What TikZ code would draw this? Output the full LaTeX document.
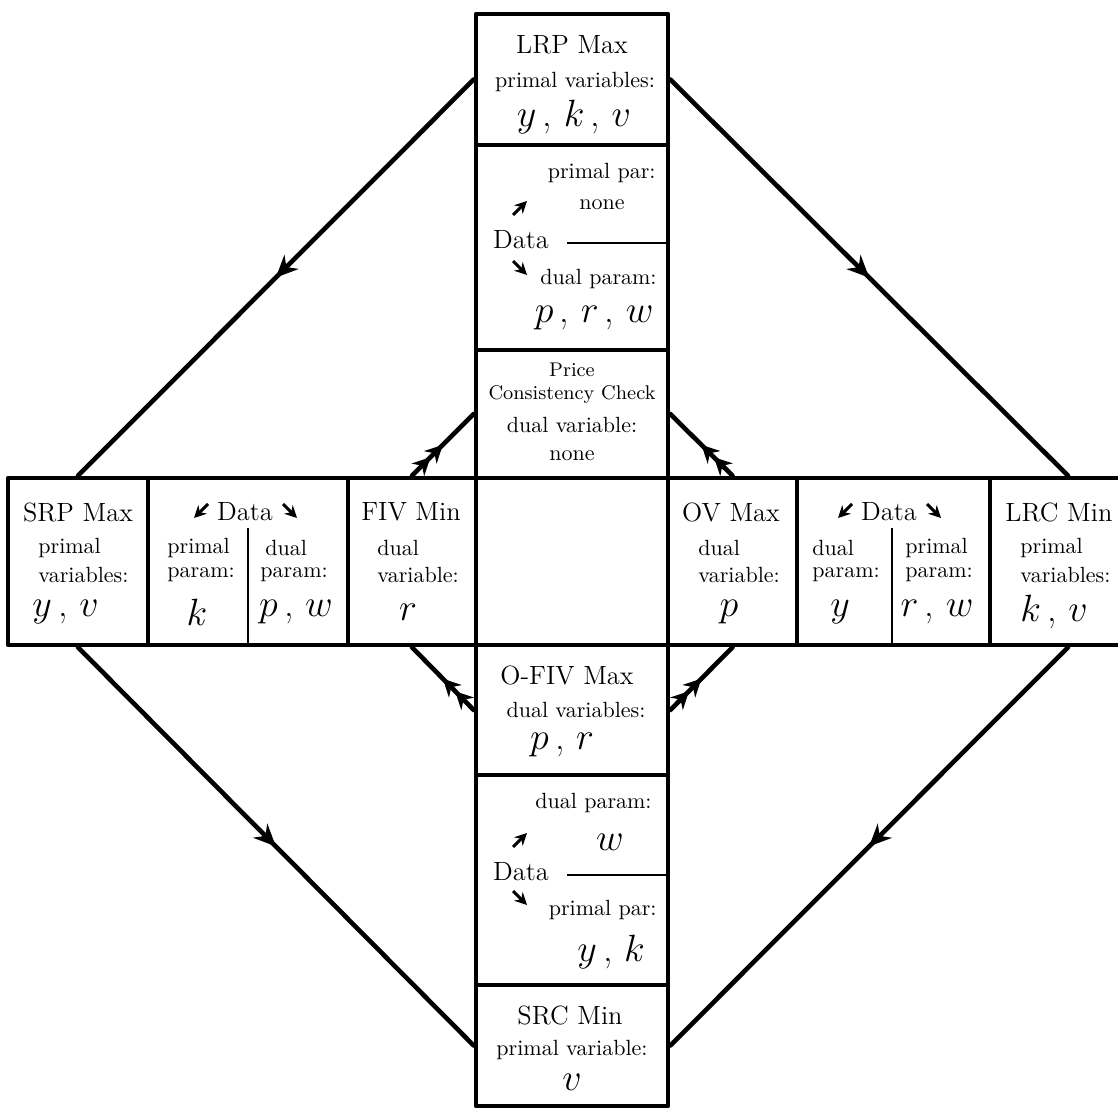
\documentclass[tikz,border=0pt]{standalone}
\usetikzlibrary{arrows.meta,decorations.markings,fit}
\tikzset{
	box/.style={draw, line width=2.1pt, inner sep=0pt},
	txt/.style={inner sep=0pt},
	big/.style={txt, font=\large},
	sml/.style={txt, font=\small},
	var/.style={txt, font=\LARGE},
	sep/.style={line width=0.8pt},
	tip/.style={line width=1.4pt, -{Stealth[length=5.5pt,width=5.5pt]}},
	onearr/.style={line width=2.1pt, line cap=round, postaction={decorate},
		decoration={markings, mark=at position .5 with {\arrow{Stealth[length=10pt,width=9pt]}}}},
	twoarr/.style={line width=2.1pt, line cap=round, postaction={decorate},
		decoration={markings, mark=at position .5 with {\arrow{Stealth[length=8pt,width=8pt] Stealth[length=8pt,width=8pt]}}}}
}
\begin{document}
\begin{tikzpicture}[x=0.4547pt, y=-0.4547pt, line join=round]
	\useasboundingbox (0,0) rectangle (1118,1109);
	% column of boxes
	\node[box, fit={(476,14)(668,145)}] (lrp) {};
	\node[box, fit={(476,145)(668,350)}] (dtop) {};
	\node[box, fit={(476,350)(668,478)}] (pcc) {};
	\node[box, fit={(476,478)(668,645)}] (mid) {};
	\node[box, fit={(476,645)(668,775)}] (ofiv) {};
	\node[box, fit={(476,775)(668,985)}] (dbot) {};
	\node[box, fit={(476,985)(668,1106)}] (src) {};
	% row of boxes
	\node[box, fit={(8,478)(148,645)}] (srp) {};
	\node[box, fit={(148,478)(348,645)}] (dleft) {};
	\node[box, fit={(348,478)(476,645)}] (fiv) {};
	\node[box, fit={(668,478)(797,645)}] (ov) {};
	\node[box, fit={(797,478)(990,645)}] (dright) {};
	\node[box, fit={(990,478)(1146,645)}] (lrc) {};

	% LRP Max
	\node[big] (lrpT) at (572,45) {LRP Max};
	\node[txt] (lrpL) at (575,82) {primal variables:};
	\node[var] (lrpV) at (574,117) {$y$\,, $k$\,, $v$};
	% upper data
	\node[txt, anchor=east] (dtP) at (656,173) {primal par:};
	\node[txt] (dtN) at (602,205) {none};
	\node[big] (dA) at (521,240) {Data};
	\draw[tip] (513,215) -- (527,201);
	\draw[tip] (513,261) -- (527,275);
	\draw[sep] (567,243) -- (dtop.east |- 0,243);
	\node[txt, anchor=east] (dtD) at (657,279) {dual param:};
	\node[var, anchor=east] (dtV) at (654,318) {$p$\,, $r$\,, $w$};
	% price check
	\node[sml] (pccA) at (572,370) {Price};
	\node[sml] (pccB) at (572,395) {Consistency Check};
	\node[txt] (pccC) at (572,425) {dual variable:};
	\node[txt] (pccD) at (572,456) {none};
	% SRP Max
	\node[big] (srpT) at (78,512) {SRP Max};
	\node[txt, anchor=west] (srpA) at (38,548) {primal};
	\node[txt, anchor=west] (srpB) at (38,575) {variables:};
	\node[var, anchor=west] (srpV) at (32,612) {$y$\,, $v$};
	% left data
	\node[big] (dB) at (245,512) {Data};
	\draw[tip] (208,504) -- (194,518);
	\draw[tip] (283,504) -- (297,518);
	\draw[sep] (248,528) -- (dleft.south);
	\node[txt, anchor=west] (dlA) at (167,548) {primal};
	\node[txt, anchor=west] (dlB) at (167,575) {param:};
	\node[var] (dlV) at (197,612) {$k$};
	\node[txt, anchor=west] (dlC) at (265,548) {dual};
	\node[txt, anchor=west] (dlD) at (260,575) {param:};
	\node[var] (dlW) at (296,612) {$p$\,, $w$};
	% FIV Min
	\node[big] (fivT) at (411,512) {FIV Min};
	\node[txt, anchor=west] (fivA) at (377,548) {dual};
	\node[txt, anchor=west] (fivB) at (377,575) {variable:};
	\node[var] (fivV) at (408,612) {$r$};
	% OV Max
	\node[big] (ovT) at (731,512) {OV Max};
	\node[txt, anchor=west] (ovA) at (698,548) {dual};
	\node[txt, anchor=west] (ovB) at (698,575) {variable:};
	\node[var] (ovV) at (729,612) {$p$};
	% right data
	\node[big] (dC) at (889,512) {Data};
	\draw[tip] (852,504) -- (838,518);
	\draw[tip] (927,504) -- (941,518);
	\draw[sep] (892,528) -- (dright.south -| 892,0);
	\node[txt, anchor=west] (drA) at (812,548) {dual};
	\node[txt, anchor=west] (drB) at (812,575) {param:};
	\node[var] (drV) at (840,612) {$y$};
	\node[txt, anchor=west] (drC) at (905,548) {primal};
	\node[txt, anchor=west] (drD) at (905,575) {param:};
	\node[var] (drW) at (937,612) {$r$\,, $w$};
	% LRC Min
	\node[big, anchor=west] (lrcT) at (1005,512) {LRC Min};
	\node[txt, anchor=west] (lrcA) at (1020,548) {primal};
	\node[txt, anchor=west] (lrcB) at (1020,575) {variables:};
	\node[var] (lrcV) at (1054,612) {$k$\,, $v$};
	% O-FIV Max
	\node[big] (ofivT) at (567,675) {O-FIV Max};
	\node[txt] (ofivA) at (576,710) {dual variables:};
	\node[var] (ofivV) at (562,745) {$p$\,, $r$};
	% lower data
	\node[txt, anchor=east] (dbD) at (652,803) {dual param:};
	\node[var] (dbW) at (610,842) {$w$};
	\node[big] (dD) at (521,872) {Data};
	\draw[tip] (513,847) -- (527,833);
	\draw[tip] (513,891) -- (527,905);
	\draw[sep] (567,875) -- (dbot.east |- 0,875);
	\node[txt, anchor=east] (dbP) at (657,910) {primal par:};
	\node[var] (dbV) at (611,952) {$y$\,, $k$};
	% SRC Min
	\node[big] (srcT) at (570,1015) {SRC Min};
	\node[txt] (srcA) at (572,1050) {primal variable:};
	\node[var] (srcV) at (572,1082) {$v$};

	% links
	\draw[onearr] (lrp.west) -- (srp.north);
	\draw[onearr] (lrp.east) -- (lrc.north);
	\draw[onearr] (srp.south) -- (src.west);
	\draw[onearr] (lrc.south) -- (src.east);
	\draw[twoarr] (fiv.north) -- (pcc.west);
	\draw[twoarr] (ov.north) -- (pcc.east);
	\draw[twoarr] (ofiv.west) -- (fiv.south);
	\draw[twoarr] (ofiv.east) -- (ov.south);
\end{tikzpicture}
\end{document}
